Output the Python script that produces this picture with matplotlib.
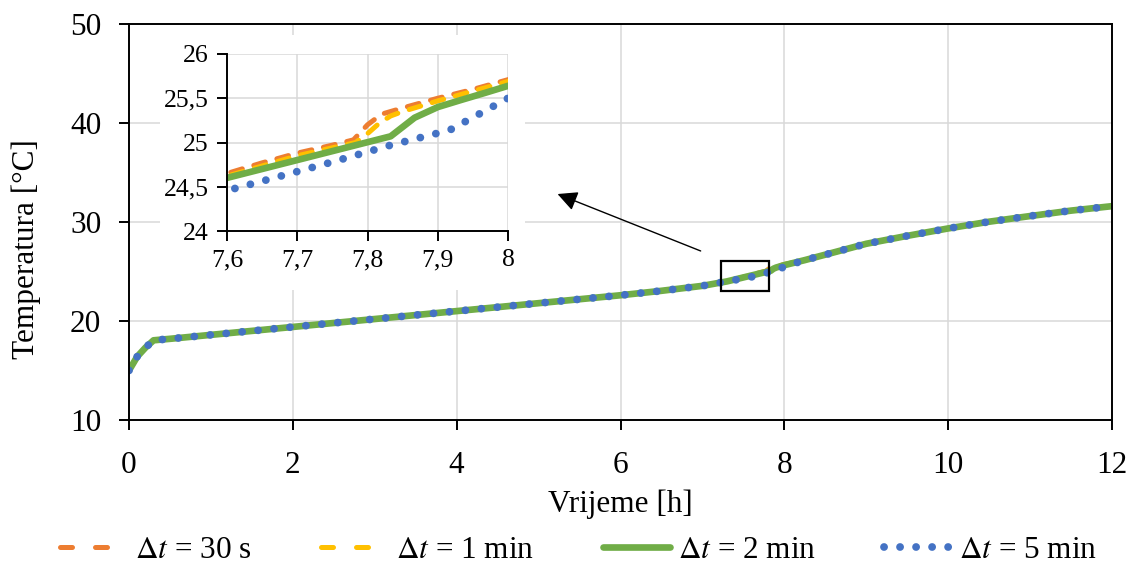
import numpy as np
import matplotlib
matplotlib.use("Agg")
import matplotlib.pyplot as plt
from matplotlib.patches import Rectangle

# Data (time in h, temperature in degC)
t_early = [0, 0.1, 0.2, 0.3, 0.5, 1, 2, 3, 4, 5, 6, 6.5, 7, 7.3]
T_early = [15.0, 16.4, 17.3, 18.05, 18.2, 18.6, 19.4, 20.2, 21.0, 21.8, 22.6, 23.05, 23.55, 24.0]

t_late = [8.25, 8.5, 9, 9.5, 10, 10.5, 11, 11.5, 12]
T_late = [26.15, 26.7, 27.8, 28.6, 29.35, 30.03, 30.6, 31.15, 31.6]

# region around 7.6-8 h where the time steps differ
t_30s_mid = [7.6, 7.65, 7.7, 7.75, 7.78, 7.8, 7.82, 7.85, 7.9, 7.95, 8.0]
T_30s_mid = [24.65, 24.77, 24.88, 24.97, 25.03, 25.2, 25.32, 25.39, 25.5, 25.6, 25.71]

t_1min_mid = [7.6, 7.7, 7.783, 7.8, 7.817, 7.833, 7.85, 7.9, 7.95, 8.0]
T_1min_mid = [24.62, 24.85, 25.0, 25.1, 25.22, 25.3, 25.35, 25.47, 25.58, 25.69]

t_2min_mid = [7.6, 7.833, 7.867, 7.9, 7.933, 7.967, 8.0]
T_2min_mid = [24.6, 25.07, 25.28, 25.4, 25.48, 25.56, 25.64]

t_5min_mid = [7.583, 7.667, 7.75, 7.833, 7.917, 8.0]
T_5min_mid = [24.42, 24.6, 24.78, 24.97, 25.14, 25.5]

Labels = [r"$\Delta t$ = 30 s", r"$\Delta t$ = 1 min", r"$\Delta t$ = 2 min", r"$\Delta t$ = 5 min"]
Colours = ["#ED7D31", "#FFC000", "#70AD47", "#4472C4"]

plt.rcParams['font.family'] = ['Liberation Serif', 'DejaVu Serif']
plt.rcParams['mathtext.fontset'] = 'stix'

series_mid = [(t_30s_mid, T_30s_mid), (t_1min_mid, T_1min_mid),
              (t_2min_mid, T_2min_mid), (t_5min_mid, T_5min_mid)]
Styles = [dict(lw=3.6, linestyle=(0, (2.4, 2.4)), dash_capstyle='round'),
          dict(lw=3.6, linestyle=(0, (2.4, 2.4)), dash_capstyle='round'),
          dict(lw=4.8, linestyle='-', solid_capstyle='round'),
          dict(lw=5.6, linestyle=(0, (0.01, 2.05)), dash_capstyle='round')]

W, H = 1133, 568
fig = plt.figure(figsize=(W / 100, H / 100), dpi=100)
ax = fig.add_axes([129 / W, 1 - 420 / H, (1112 - 129) / W, (420 - 24) / H])

def draw_series(a):
    for (tm, Tm), c, st, lab in zip(series_mid, Colours, Styles, Labels):
        t = t_early + tm + t_late
        T = T_early + Tm + T_late
        a.plot(t, T, color=c, label=lab, **st)

draw_series(ax)
ax.set_xlim(0, 12)
ax.set_ylim(10, 50)
ax.set_xticks(np.arange(0, 13, 2))
ax.set_yticks(np.arange(10, 51, 10))
ax.grid(True, color="#D9D9D9", lw=1.1)
ax.set_axisbelow(True)
for s in ax.spines.values():
    s.set_linewidth(1.4)
ax.tick_params(labelsize=22.5, length=7, width=1.4, direction='out')
ax.tick_params(axis='x', pad=15)
ax.tick_params(axis='y', pad=13)

fig.text(26 / W, 1 - 249 / H, "Temperatura [°C]", rotation=90, ha='center', va='center', fontsize=22.5)
fig.text(620 / W, 1 - 504 / H, "Vrijeme [h]", ha='center', va='center', fontsize=22.5)

# zoom box and arrow
ax.add_patch(Rectangle((7.23, 23.03), 0.58, 3.03, fill=False, edgecolor='black', lw=1.6, zorder=5))
ax.annotate('', xy=(5.20, 32.93), xytext=(7.01, 26.97),
            arrowprops=dict(arrowstyle='-|>', color='black', lw=1.0, mutation_scale=30))

# white background of the inset chart area
ax.add_patch(Rectangle((160 / W, 1 - 290 / H), 365 / W, 255 / H, transform=fig.transFigure,
                       facecolor='white', edgecolor='none', zorder=1.5))

# inset
axi = fig.add_axes([227 / W, 1 - 231 / H, (508 - 227) / W, (231 - 54) / H])
axi.set_zorder(3)
draw_series(axi)
axi.set_xlim(7.6, 8.0)
axi.set_ylim(24, 26)
axi.set_xticks([7.6, 7.7, 7.8, 7.9, 8.0])
axi.set_xticklabels(["7,6", "7,7", "7,8", "7,9", "8"])
axi.set_yticks([24, 24.5, 25, 25.5, 26])
axi.set_yticklabels(["24", "24,5", "25", "25,5", "26"])
axi.grid(True, color="#D9D9D9", lw=1.1)
axi.set_axisbelow(True)
axi.spines['top'].set_visible(False)
axi.spines['right'].set_visible(False)
for s in ['left', 'bottom']:
    axi.spines[s].set_linewidth(1.4)
axi.tick_params(labelsize=18.5, length=7, width=1.4, pad=6)

leg = fig.legend(*ax.get_legend_handles_labels(), loc='center', bbox_to_anchor=(579 / W, 1 - 550 / H),
                 ncol=4, frameon=False, fontsize=22.5, handlelength=2.15, handletextpad=0.25,
                 columnspacing=2.2)
# legend shows only two long dashes for the dashed series
for ln in leg.get_lines()[:2]:
    ln.set_linestyle((0, (2.4, 4.6)))

fig.savefig("out.png", dpi=100)
